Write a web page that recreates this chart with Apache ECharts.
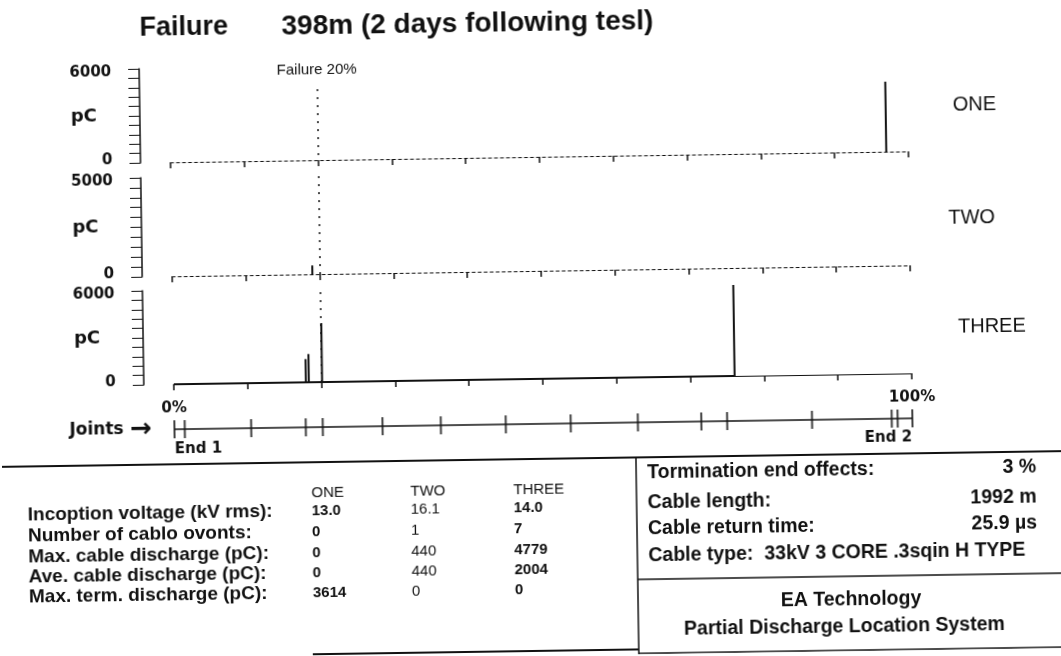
<!DOCTYPE html>
<html><head><meta charset="utf-8">
<script src="https://cdn.jsdelivr.net/npm/echarts@6/dist/echarts.min.js"></script>
<style>
html,body{margin:0;padding:0;background:#fff;overflow:hidden}
/* the scanned original is slightly skewed (right side higher) */
#c{width:1061px;height:656px;transform:rotate(-0.85deg);transform-origin:530px 328px}
</style>
</head><body><div id="c"></div>
<script>
// ---- data (position along cable in %, discharge in pC) ----
const phaseNames = ['ONE', 'TWO', 'THREE'];
const yMaxLabels = [6000, 5000, 6000];
const failurePos = 20;
const onePos = [97.0];
const oneVal = [4470];
const twoPos = [19.0];
const twoVal = [440];
const threePos = [17.9, 18.3, 20.1, 76.0];
const threeVal = [1480, 1800, 3770, 5810];
const jointPos = [0, 1.4, 10.4, 17.8, 20.1, 28.2, 36.1, 44.9, 53.7, 62.8, 71.4, 74.9, 86.4, 97.2, 98.0, 100];
const tableHeaders = ['ONE', 'TWO', 'THREE'];
const tableRowLabels = ['Incoption voltage (kV rms):', 'Number of cablo ovonts:', 'Max. cable discharge (pC):', 'Ave. cable discharge (pC):', 'Max. term. discharge (pC):'];
const tableOne = ['13.0', '0', '0', '0', '3614'];
const tableTwo = ['16.1', '1', '440', '440', '0'];
const tableThree = ['14.0', '7', '4779', '2004', '0'];
const infoLabels = ['Tormination end offects:', 'Cable length:', 'Cable return time:'];
const infoValues = ['3 %', '1992 m', '25.9 \u00b5s'];
const cableType = 'Cable type:  33kV 3 CORE .3sqin H TYPE';
const footer = ['EA Technology', 'Partial Discharge Location System'];

// ---- build ----
const INK = '#111';
const SANS = 'Liberation Sans';
const WIDE = 'DejaVu Sans';
const gridBoxes = [[63, 94], [172, 99], [285, 94]];
const gridLeft = 173, gridW = 738;
const pos = [onePos, twoPos, threePos];
const vals = [oneVal, twoVal, threeVal];

function spikes(p, v, solid) {
  const d = [];
  if (solid) d.push([0, 0]);
  p.forEach((x, i) => {
    d.push([x, 0], [x, v[i]], [x, 0]);
    if (!solid) d.push(null);
  });
  return d;
}

const grids = gridBoxes.map(b => ({ left: gridLeft, width: gridW, top: b[0], height: b[1] }));
grids.push({ left: gridLeft, width: gridW, top: 415, height: 18 });

const xAxes = [0, 1, 2].map(i => ({
  type: 'value', gridIndex: i, min: 0, max: 100, interval: 10,
  axisLine: { show: true, onZero: false, lineStyle: { color: INK, width: 1, type: i === 2 ? 'solid' : [3, 3] } },
  axisTick: { show: true, length: 6, lineStyle: { color: INK, width: 1.5 } },
  axisLabel: i === 2 ? {
    show: true, margin: 17, color: INK, fontFamily: WIDE, fontWeight: 'bold', fontSize: 15,
    formatter: v => v === 0 ? '0%' : (v === 100 ? '100%' : '')
  } : { show: false },
  splitLine: { show: false }
}));
xAxes.push({ type: 'value', gridIndex: 3, min: 0, max: 100, show: false });

const lblFont = { fontFamily: WIDE, fontWeight: 'bold', fontSize: 15, color: INK };
const yAxes = [0, 1, 2].map(i => ({
  type: 'value', gridIndex: i, min: 0, max: yMaxLabels[i], interval: yMaxLabels[i] / 10,
  offset: 30,
  axisLine: { show: true, onZero: false, lineStyle: { color: INK, width: 1.5 } },
  axisTick: { show: true, length: 11, lineStyle: { color: INK, width: 1 } },
  axisLabel: {
    show: true, margin: 28, color: INK, fontFamily: WIDE, fontWeight: 'bold', fontSize: 15,
    formatter: v => v === yMaxLabels[i] ? '{t|' + v + '}' : (v === 0 ? '{b|0}' : ''),
    rich: {
      t: Object.assign({ padding: [6, 0, 0, 0] }, lblFont),
      b: Object.assign({ padding: [0, 0, 6, 0] }, lblFont)
    }
  },
  splitLine: { show: false },
  name: 'pC', nameLocation: 'middle', nameRotate: 0, nameGap: 43, nameMoveOverlap: false,
  nameTextStyle: { color: INK, fontFamily: WIDE, fontWeight: 'bold', fontSize: 18 }
}));
yAxes.push({ type: 'value', gridIndex: 3, min: -1, max: 1, show: false });

const series = [0, 1, 2].map(i => ({
  type: 'line', xAxisIndex: i, yAxisIndex: i, name: phaseNames[i],
  data: spikes(pos[i], vals[i], i === 2),
  showSymbol: false, connectNulls: false, animation: false,
  lineStyle: { color: INK, width: 2 },
  markLine: {
    silent: true, symbol: 'none', animation: false,
    lineStyle: { color: INK, type: [2, 6], width: 1.5 },
    label: i === 0 ? { show: true, position: 'start', distance: 12, formatter: 'Failure ' + failurePos + '%',
      color: INK, fontFamily: SANS, fontSize: 15 } : { show: false },
    data: i === 0 ? [[{ coord: [failurePos, 4530] }, { coord: [failurePos, 0] }]] : [{ xAxis: failurePos }]
  }
}));
series.push({
  type: 'line', xAxisIndex: 3, yAxisIndex: 3, data: [[jointPos[0], 0], [jointPos[jointPos.length - 1], 0]],
  showSymbol: false, animation: false, lineStyle: { color: INK, width: 1.5 }
});
series.push({
  type: 'scatter', xAxisIndex: 3, yAxisIndex: 3, data: jointPos.map(p => [p, 0]),
  symbol: 'rect', symbolSize: [2, 18], itemStyle: { color: INK }, animation: false
});

const titles = [
  { text: 'Failure', left: 144, top: 9, size: 27 },
  { text: '398m (2 days following tesl)', left: 286, top: 9, size: 28 }
].map(t => ({ text: t.text, left: t.left, top: t.top, padding: 0,
  textStyle: { color: INK, fontFamily: SANS, fontWeight: 'bold', fontSize: t.size } }));
const phaseLabelPos = [[956, 101], [950, 214], [958, 323]];
phaseNames.forEach((n, i) => titles.push({
  text: n, left: phaseLabelPos[i][0], top: phaseLabelPos[i][1], padding: 0,
  textStyle: { color: INK, fontFamily: SANS, fontWeight: 'normal', fontSize: 20 }
}));

function txt(x, y, text, size, weight, align, family) {
  return { type: 'text', x: x, y: y, silent: true,
    style: { text: text, fill: INK, fontSize: size, fontWeight: weight || 'normal', fontFamily: family || SANS,
      align: align || 'left', verticalAlign: 'middle' } };
}
function ln(x1, y1, x2, y2, w) {
  return { type: 'line', silent: true, shape: { x1: x1, y1: y1, x2: x2, y2: y2 }, style: { stroke: INK, lineWidth: w || 2 } };
}
const graphics = [
  { type: 'text', x: 68, y: 424, silent: true,
    style: { text: '{a|Joints}  {b|\u2192}', fill: INK, verticalAlign: 'middle', align: 'left',
      rich: { a: { fontFamily: WIDE, fontWeight: 'bold', fontSize: 17, fill: INK },
              b: { fontFamily: WIDE, fontWeight: 'bold', fontSize: 26, fill: INK } } } },
  txt(173, 444, 'End 1', 15, 'bold', 'left', WIDE),
  txt(863, 443, 'End 2', 15, 'bold', 'left', WIDE),
  ln(-10, 459, 1075, 459, 2),
  ln(634, 459, 634, 660, 1.5),
  ln(308, 651, 634, 651, 2),
  ln(634, 581, 1075, 581, 1.5),
  ln(634, 655, 1075, 655, 1.5)
];
const colX = [309, 408, 511];
tableHeaders.forEach((h, i) => graphics.push(txt(colX[i], 490, h, 15, 'normal')));
const rowY = [508, 529, 550, 570, 590];
tableRowLabels.forEach((l, r) => {
  graphics.push(txt(25, rowY[r], l, 19, 'bold'));
  graphics.push(txt(colX[0], rowY[r], tableOne[r], 15, 'bold'));
  graphics.push(txt(colX[1], rowY[r], tableTwo[r], 15, 'normal'));
  graphics.push(txt(colX[2], rowY[r], tableThree[r], 15, 'bold'));
});
const infoY = [475, 505, 531];
infoLabels.forEach((l, r) => {
  graphics.push(txt(645, infoY[r], l, 19.5, 'bold'));
  graphics.push(txt(1034, infoY[r], infoValues[r], 19.5, 'bold', 'right'));
});
graphics.push(txt(645, 558, cableType, 19.5, 'bold'));
graphics.push(txt(847, 605, footer[0], 19.5, 'bold', 'center'));
graphics.push(txt(840, 632, footer[1], 19.5, 'bold', 'center'));

const chart = echarts.init(document.getElementById('c'), null, { renderer: 'canvas' });
chart.setOption({
  backgroundColor: '#fff',
  animation: false,
  title: titles,
  grid: grids,
  xAxis: xAxes,
  yAxis: yAxes,
  series: series,
  graphic: graphics
});
</script></body></html>
